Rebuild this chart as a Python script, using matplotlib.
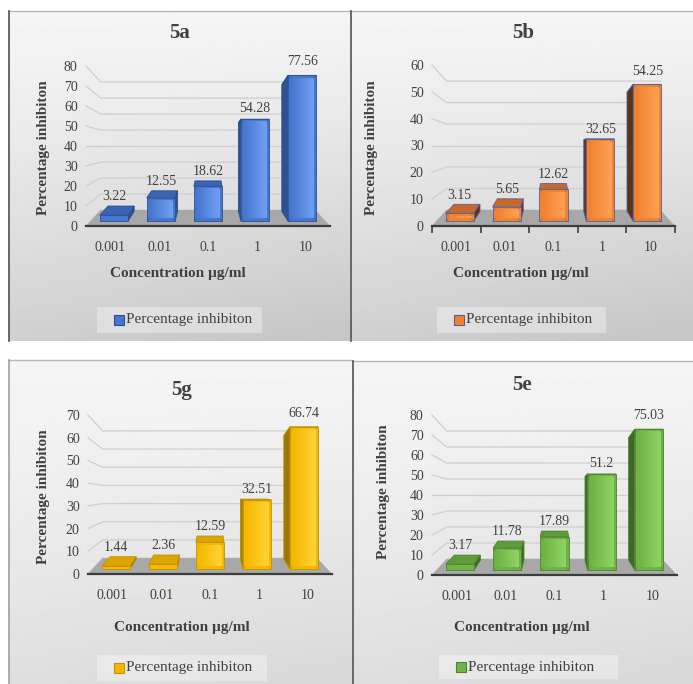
import numpy as np
import matplotlib.pyplot as plt
from matplotlib.patches import Polygon, Rectangle
from matplotlib.colors import LinearSegmentedColormap

plt.rcParams['font.family'] = ['Liberation Serif', 'DejaVu Serif']

# data
categories = ['0.001', '0.01', '0.1', '1', '10']
inhib_5a = [3.22, 12.55, 18.62, 54.28, 77.56]
inhib_5b = [3.15, 5.65, 12.62, 32.65, 54.25]
inhib_5g = [1.44, 2.36, 12.59, 32.51, 66.74]
inhib_5e = [3.17, 11.78, 17.89, 51.2, 75.03]
titles = ['5a', '5b', '5g', '5e']
y_max = [80, 60, 70, 80]
series = [inhib_5a, inhib_5b, inhib_5g, inhib_5e]

# (front, light, top, side, edge)
palettes = [
    ('#4677d0', '#6fa0f2', '#3a64b5', '#30508f', '#2f4f8f'),
    ('#f2822f', '#ffa155', '#c8682c', '#5e3216', '#55609a'),
    ('#f5b800', '#ffd43a', '#dca400', '#9c7808', '#c49200'),
    ('#6fb345', '#92d466', '#5e9c3a', '#3d6b25', '#4f8232'),
]

# pixel layout of each panel
layouts = [
    dict(box=(9, 11, 350, 341), cx=(86, 330), cy=(226, 66), title=(180, 33), ylab=(44, 148),
         xlab=(178, 273), leg=(97, 307, 262, 333)),
    dict(box=(351, 11, 693, 341), cx=(432, 675), cy=(226, 65), title=(523, 33), ylab=(371, 148),
         xlab=(521, 273), leg=(437, 307, 606, 333)),
    dict(box=(9, 360, 352, 684), cx=(88, 332), cy=(574, 415), title=(182, 390), ylab=(44, 497),
         xlab=(182, 628), leg=(97, 655, 267, 681)),
    dict(box=(353, 361, 693, 684), cx=(432, 677), cy=(575, 415), title=(522, 385), ylab=(384, 492),
         xlab=(522, 627), leg=(439, 655, 618, 679)),
]
bg_shades = [(0.96, 0.78), (0.96, 0.78), (0.96, 0.85), (0.96, 0.85)]

W, H = 693, 684
fig = plt.figure(figsize=(6.93, 6.84), dpi=100)
fig.patch.set_facecolor('white')
bg = fig.add_axes([0, 0, 1, 1], zorder=0)
bg.set_xlim(0, W)
bg.set_ylim(H, 0)
bg.axis('off')

txt = '#404040'
kx, ky = 0.12, 0.2
z0, z1 = 0.3, 0.92
w = 0.6
xe = 2.0
ramp = np.linspace(0, 1, 64).reshape(1, -1)

for k in range(4):
    lay = layouts[k]
    x0p, y0p, x1p, y1p = lay['box']
    top, bot = bg_shades[k]
    yy, xx = np.mgrid[0:1:120j, 0:1:120j]
    grad = top - (top - bot) * np.clip(0.8 * yy ** 1.3 + 0.25 * xx * yy, 0, 1)
    bg.imshow(grad, cmap='gray', vmin=0, vmax=1, extent=(x0p, x1p, y1p, y0p),
              aspect='auto', interpolation='bilinear', zorder=0)
    bg.plot([x0p, x1p], [y0p, y0p], color='#b8b8b8', lw=1.0, zorder=1)
    edge_c = '#505050' if k in (0, 1, 3) else '#a0a0a0'
    bg.plot([x0p, x0p], [y0p, y1p], color=edge_c, lw=1.2, zorder=1)

    bg.text(*lay['title'], titles[k], ha='center', va='center', fontsize=15,
            fontweight='bold', color=txt)
    bg.text(*lay['ylab'], 'Percentage inhibiton', ha='center', va='center', rotation=90,
            fontsize=11, fontweight='bold', color=txt)
    bg.text(*lay['xlab'], 'Concentration µg/ml', ha='center', va='center', fontsize=11,
            fontweight='bold', color=txt)

    front, light, topc, side, edge = palettes[k]

    lx0, ly0, lx1, ly1 = lay['leg']
    bg.add_patch(Rectangle((lx0, ly0), lx1 - lx0, ly1 - ly0, facecolor='white', alpha=0.35,
                           edgecolor='none', zorder=2))
    ym = (ly0 + ly1) / 2
    bg.add_patch(Rectangle((lx0 + 17, ym - 5), 10, 10, facecolor=front,
                           edgecolor=edge, lw=0.8, zorder=3))
    bg.text(lx0 + 29, ym, 'Percentage inhibiton', ha='left', va='center', fontsize=11,
            color=txt, zorder=3)

    # chart axes
    xa, xb = lay['cx']
    ya, yb = lay['cy']
    ax = fig.add_axes([xa / W, 1 - ya / H, (xb - xa) / W, (ya - yb) / H], zorder=1)
    ax.patch.set_visible(False)
    ymax = y_max[k]
    ye = ymax / 2.0
    px_x = (xb - xa) / 5.0
    px_y = (ya - yb) / ymax

    def proj(x, v, z):
        return xe + (x - xe) * (1 - kx * z), ye + (v - ye) * (1 - ky * z)

    # back wall gridlines
    for v in range(0, ymax + 1, 10):
        bx, by = proj(-0.5, v, 1)
        rx, ry = proj(4.5, v, 1)
        ax.plot([-0.5, bx, rx], [v, by, ry], color='#cfcfcf', lw=0.9, clip_on=False, zorder=1)

    # floor
    floor = [proj(-0.5, 0, 0), proj(4.5, 0, 0), proj(4.5, 0, 1), proj(-0.5, 0, 1)]
    ax.add_patch(Polygon(floor, closed=True, facecolor='#a8a8a8', edgecolor='none',
                         clip_on=False, zorder=2))

    cmap = LinearSegmentedColormap.from_list('f%d' % k, [front, light])
    vals = series[k]
    for i, v in enumerate(vals):
        l, r = i - w / 2, i + w / 2
        top_poly = [proj(l, v, z0), proj(r, v, z0), proj(r, v, z1), proj(l, v, z1)]
        ax.add_patch(Polygon(top_poly, closed=True, facecolor=topc, edgecolor=edge, lw=0.6,
                             clip_on=False, zorder=3))
        if r < xe:
            sx = r
        elif l > xe:
            sx = l
        else:
            sx = None
        if sx is not None:
            side_poly = [proj(sx, 0, z0), proj(sx, v, z0), proj(sx, v, z1), proj(sx, 0, z1)]
            ax.add_patch(Polygon(side_poly, closed=True, facecolor=side, edgecolor=edge,
                                 lw=0.6, clip_on=False, zorder=3))
        fl, fb = proj(l, 0, z0)
        fr, ft = proj(r, v, z0)
        ax.bar(fl, ft - fb, width=fr - fl, bottom=fb, align='edge', color=front,
               edgecolor=edge, lw=0.6, clip_on=False, zorder=4)
        # bevelled lighter inner face
        ix, iy = 3.0 / px_x, 3.0 / px_y
        if ft - fb > 2 * iy + 0.5:
            ax.imshow(ramp, cmap=cmap, vmin=0, vmax=1, aspect='auto', interpolation='bilinear',
                      extent=(fl + ix, fr - ix, fb + iy, ft - iy), zorder=4.5, clip_on=False)
            for (cx_, cy_), (dx_, dy_) in [((fl, fb), (ix, iy)), ((fr, fb), (-ix, iy)),
                                           ((fl, ft), (ix, -iy)), ((fr, ft), (-ix, -iy))]:
                ax.plot([cx_, cx_ + dx_], [cy_, cy_ + dy_], color=edge, lw=0.4, alpha=0.7,
                        clip_on=False, zorder=4.6)
        lab_y = max(proj(i, v, 0)[1], proj(i, v, z1)[1])
        ax.annotate(f'{v:g}', xy=(proj(i, v, z0)[0], lab_y), xytext=(0, 2),
                    textcoords='offset points', ha='center', va='bottom', fontsize=10,
                    color=txt, annotation_clip=False, zorder=5)

    ax.set_xlim(-0.5, 4.5)
    ax.set_ylim(0, ymax)
    for s in ('left', 'top', 'right'):
        ax.spines[s].set_visible(False)
    ax.spines['bottom'].set_color('#3c3c3c')
    ax.spines['bottom'].set_linewidth(1.6)
    ax.spines['bottom'].set_zorder(3)
    ax.set_yticks(range(0, ymax + 1, 10))
    ax.tick_params(axis='y', length=0, pad=6, labelsize=10, labelcolor=txt)
    ax.set_xticks(range(5), categories)
    ax.tick_params(axis='x', which='major', length=0, pad=11, labelsize=10, labelcolor=txt)
    if k == 1:
        ax.set_xticks(np.arange(-0.5, 5), minor=True)
        ax.tick_params(axis='x', which='minor', length=5, width=1.2, color='#3c3c3c',
                       direction='out')

fig.savefig('out.png', dpi=100, facecolor='white')
